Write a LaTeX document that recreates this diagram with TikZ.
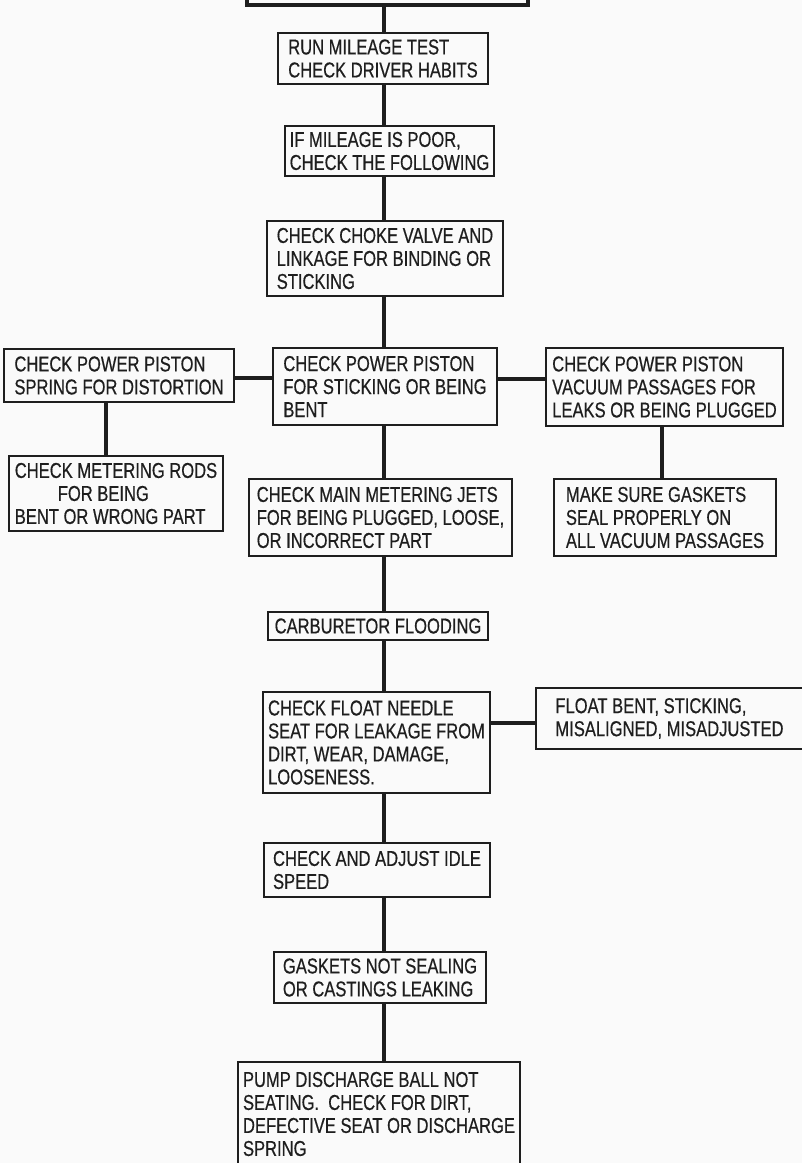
\documentclass[tikz,border=0pt]{standalone}
\usepackage{fontspec}
\newfontfamily\boxfont{Liberation Sans}[FakeStretch=0.77,FakeBold=0.5]
\definecolor{ink}{HTML}{1E1E1E}
\definecolor{paper}{HTML}{FAFAFA}
\begin{document}
\begin{tikzpicture}[x=1pt,y=-1pt,
  box/.style={draw=ink, line width=1.8pt, rectangle, align=left, inner xsep=5pt, inner ysep=0pt,
    font=\boxfont\fontsize{21.5}{23}\selectfont, text=ink},
  link/.style={draw=ink, line width=3.6pt}]
\useasboundingbox (0,0) rectangle (802,1163);
\clip (0,0) rectangle (802,1163);
\fill[paper] (0,0) rectangle (802,1163);

\coordinate (spine) at (384,0);
\coordinate (hl) at (0,378);
\coordinate (hr) at (0,379);
\coordinate (hf) at (0,723);
\coordinate (vl) at (106,0);
\coordinate (vr) at (662,0);

\node[box, line width=3.5pt, minimum width=281pt, minimum height=40pt] (top) at (387.5,-15) {};
\node[box, minimum width=210pt, minimum height=51pt] (b1) at (383,58.5) {RUN MILEAGE TEST\\CHECK DRIVER HABITS};
\node[box, minimum width=205pt, minimum height=50pt] (b2) at (389.5,151) {IF MILEAGE IS POOR,\\CHECK THE FOLLOWING};
\node[box, minimum width=236pt, minimum height=75pt] (b3) at (385,258.5) {CHECK CHOKE VALVE AND\\LINKAGE FOR BINDING OR\\STICKING};
\node[box, minimum width=224pt, minimum height=77pt] (b4) at (385,386.5) {CHECK POWER PISTON\\FOR STICKING OR BEING\\BENT};
\node[box, minimum width=230pt, minimum height=53pt] (bl) at (119,375.5) {CHECK POWER PISTON\\SPRING FOR DISTORTION};
\node[box, minimum width=214pt, minimum height=75pt] (bll) at (116,493.5) {CHECK METERING RODS\\\hspace*{43pt}FOR BEING\\BENT OR WRONG PART};
\node[box, minimum width=237pt, minimum height=78pt] (br) at (664.5,387) {CHECK POWER PISTON\\VACUUM PASSAGES FOR\\LEAKS OR BEING PLUGGED};
\node[box, minimum width=222pt, minimum height=77pt] (brr) at (665,517.5) {MAKE SURE GASKETS\\SEAL PROPERLY ON\\ALL VACUUM PASSAGES};
\node[box, minimum width=263pt, minimum height=77pt] (b5) at (380.5,517.5) {CHECK MAIN METERING JETS\\FOR BEING PLUGGED, LOOSE,\\OR INCORRECT PART};
\node[box, minimum width=220pt, minimum height=28pt] (b6) at (378,626) {CARBURETOR FLOODING};
\node[box, minimum width=225pt, minimum height=101pt] (b7) at (376.5,742.5) {CHECK FLOAT NEEDLE\\SEAT FOR LEAKAGE FROM\\DIRT, WEAR, DAMAGE,\\LOOSENESS.};
\node[box, minimum width=267pt, minimum height=61pt] (bf) at (669.5,718.5) {FLOAT BENT, STICKING,\\MISALIGNED, MISADJUSTED};
\node[box, minimum width=226pt, minimum height=54pt] (b8) at (377,870) {CHECK AND ADJUST IDLE\\SPEED\hphantom{ AND ADJUST IDLE}};
\node[box, minimum width=212pt, minimum height=51pt] (b9) at (380,977.5) {GASKETS NOT SEALING\\OR CASTINGS LEAKING};
\node[box, minimum width=280pt, minimum height=104pt] (b10) at (379,1114) {PUMP DISCHARGE BALL NOT\\SEATING.\ \ CHECK FOR DIRT,\\DEFECTIVE SEAT OR DISCHARGE\\SPRING};

\draw[link] (top.south -| spine) -- (b1.north -| spine);
\draw[link] (b1.south -| spine) -- (b2.north -| spine);
\draw[link] (b2.south -| spine) -- (b3.north -| spine);
\draw[link] (b3.south -| spine) -- (b4.north -| spine);
\draw[link] (b4.south -| spine) -- (b5.north -| spine);
\draw[link] (b5.south -| spine) -- (b6.north -| spine);
\draw[link] (b6.south -| spine) -- (b7.north -| spine);
\draw[link] (b7.south -| spine) -- (b8.north -| spine);
\draw[link] (b8.south -| spine) -- (b9.north -| spine);
\draw[link] (b9.south -| spine) -- (b10.north -| spine);
\draw[link] (bl.east |- hl) -- (b4.west |- hl);
\draw[link] (b4.east |- hr) -- (br.west |- hr);
\draw[link] (bl.south -| vl) -- (bll.north -| vl);
\draw[link] (br.south -| vr) -- (brr.north -| vr);
\draw[link] (b7.east |- hf) -- (bf.west |- hf);
\end{tikzpicture}
\end{document}
